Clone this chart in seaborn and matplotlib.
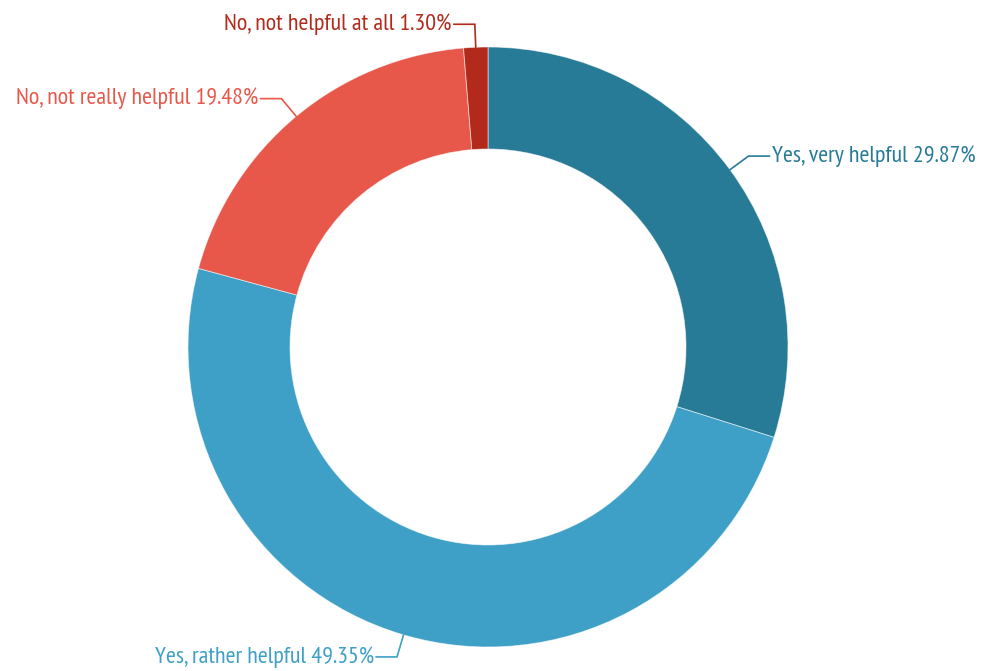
import numpy as np
import matplotlib
matplotlib.use("Agg")
import matplotlib.pyplot as plt
import seaborn as sns

categories = ["Yes, very helpful", "Yes, rather helpful",
              "No, not really helpful", "No, not helpful at all"]
shares = [29.87, 49.35, 19.48, 1.30]
colors = ["#287B97", "#3EA0C7", "#E8584A", "#B12A1B"]

sns.set_theme(style="white")
plt.rcParams["font.family"] = ["PT Sans Narrow", "DejaVu Sans"]

W, H = 982, 671
cx, cy = 488, 347          # donut centre in pixels
R, ring = 300, 102          # outer radius, ring thickness

fig = plt.figure(figsize=(W / 100, H / 100), dpi=100)
ax = fig.add_axes([0, 0, 1, 1])

wedges, _ = ax.pie(shares, colors=colors, startangle=90, counterclock=False,
                   radius=R,
                   wedgeprops=dict(width=ring, edgecolor=(1, 1, 1, 0.6),
                                   linewidth=0.6))

# pie() resets the limits, so fix the pixel-sized view afterwards
ax.set_xlim(-cx, W - cx)
ax.set_ylim(-(H - cy), cy)
ax.set_aspect("equal")
ax.axis("off")

# leader lines and labels
total = sum(shares)
cum = 0.0
for name, val, col in zip(categories, shares, colors):
    mid = (cum + val / 2) / total * 360.0
    cum += val
    th = np.deg2rad(mid)
    sx, sy = np.sin(th), np.cos(th)
    x0, y0 = R * sx, R * sy
    x1, y1 = (R + 23) * sx, (R + 23) * sy
    side = 1 if sx >= 0 else -1
    x2 = x1 + side * 21
    ax.plot([x0, x1, x2], [y0, y1, y1], color=col, lw=1.2,
            solid_joinstyle="miter")
    ax.text(x2 + side * 2, y1, f"{name} {val:.2f}%", color=col,
            fontsize=17.3, ha="left" if side > 0 else "right",
            va="center")

fig.savefig("out.png", dpi=100, facecolor="white")
